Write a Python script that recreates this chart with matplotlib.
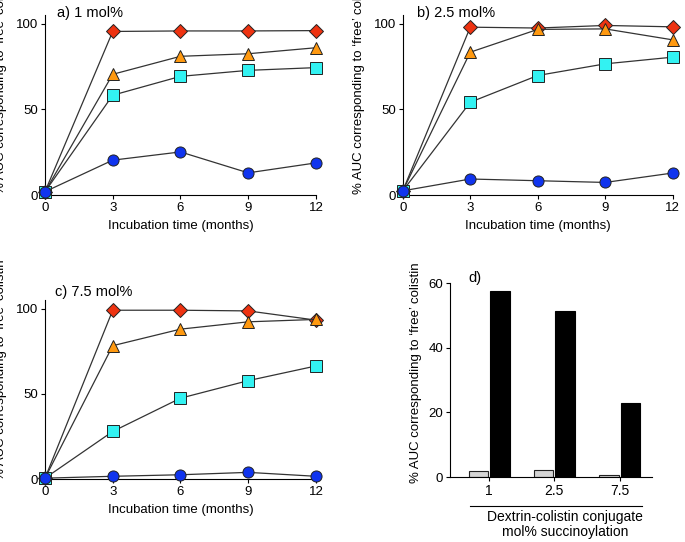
import matplotlib
matplotlib.use('Agg')
import matplotlib.pyplot as plt
import numpy as np

plt.rcParams['font.family'] = ['Liberation Sans', 'DejaVu Sans']
plt.rcParams['font.size'] = 9.5

months = [0, 3, 6, 9, 12]

# panel a) 1 mol%
a_red = [2, 95.5, 95.8, 95.8, 96]
a_orange = [2, 70.5, 81, 82.5, 86]
a_cyan = [2, 58.3, 69.3, 72.8, 74.4]
a_blue = [2, 20.4, 25.2, 13, 18.8]

# panel b) 2.5 mol%
b_red = [2.5, 98, 97.5, 99, 98.2]
b_orange = [2.5, 83.4, 96.7, 97, 90.6]
b_cyan = [2.5, 54.2, 69.8, 76.6, 80.5]
b_blue = [2.5, 9.4, 8.4, 7.4, 12.9]

# panel c) 7.5 mol%
c_red = [0.5, 99, 99, 98.6, 93.2]
c_orange = [0.5, 78.2, 87.9, 92.2, 93.6]
c_cyan = [0.5, 27.9, 47.4, 57.7, 66.3]
c_blue = [0.5, 1.6, 2.5, 3.9, 1.6]

# panel d)
d_labels = ['1', '2.5', '7.5']
d_gray = [2.0, 2.3, 0.5]
d_black = [57.5, 51.5, 23.0]

ylab = "% AUC corresponding to \u2018free\u2019 colistin"

fig = plt.figure(figsize=(6.85, 5.42), dpi=100)

def line_panel(rect, red, orange, cyan, blue, title, tx, ty, label_y):
    ax = fig.add_axes(rect)
    kw = dict(color='#333333', lw=0.9, markeredgecolor='#222222', markeredgewidth=0.7, clip_on=False)
    ax.plot(months, red, marker='D', markersize=7, markerfacecolor='#EE3311', zorder=3, **kw)
    ax.plot(months, orange, marker='^', markersize=8.5, markerfacecolor='#FF9910', zorder=4, **kw)
    ax.plot(months, cyan, marker='s', markersize=8, markerfacecolor='#33F2F2', zorder=5, **kw)
    ax.plot(months, blue, marker='o', markersize=8, markerfacecolor='#1034EE', zorder=6, **kw)
    ax.set_xlim(0, 12)
    ax.set_ylim(0, 105)
    ax.set_xticks(months)
    ax.set_yticks([0, 50, 100])
    ax.spines['top'].set_visible(False)
    ax.spines['right'].set_visible(False)
    ax.tick_params(direction='out', length=3, width=0.8, pad=2)
    ax.set_xlabel('Incubation time (months)', labelpad=4)
    ax.set_ylabel(ylab)
    ax.yaxis.set_label_coords(-0.14, label_y)
    ax.text(tx, ty, title, transform=ax.transAxes, fontsize=10.5, va='center', ha='left')
    return ax

line_panel([0.0657, 0.640, 0.3955, 0.332], a_red, a_orange, a_cyan, a_blue, 'a) 1 mol%', 0.044, 1.01, 0.617)
line_panel([0.588, 0.640, 0.394, 0.332], b_red, b_orange, b_cyan, b_blue, 'b) 2.5 mol%', 0.052, 1.01, 0.617)
line_panel([0.0657, 0.1162, 0.3955, 0.3303], c_red, c_orange, c_cyan, c_blue, 'c) 7.5 mol%', 0.037, 1.045, 0.61)

# bar panel
axd = fig.add_axes([0.657, 0.1199, 0.295, 0.3579])
x = np.arange(len(d_labels))
axd.bar(x - 0.165, d_gray, width=0.3, color='#D4D4D4', edgecolor='#222222', linewidth=0.8)
axd.bar(x + 0.165, d_black, width=0.3, color='black', edgecolor='black', linewidth=0.8)
axd.set_xlim(-0.6, 2.5)
axd.set_ylim(0, 60)
axd.set_yticks([0, 20, 40, 60])
axd.set_xticks(x)
axd.set_xticklabels(d_labels, fontsize=10)
axd.spines['top'].set_visible(False)
axd.spines['right'].set_visible(False)
axd.tick_params(direction='out', length=3, width=0.8, pad=2)
axd.set_ylabel(ylab)
axd.yaxis.set_label_coords(-0.139, 0.54)
axd.plot([0.099, 0.95], [-0.149, -0.149], transform=axd.transAxes, color='black', lw=0.8, clip_on=False)
axd.text(0.57, -0.245, 'Dextrin-colistin conjugate\nmol% succinoylation', transform=axd.transAxes,
         ha='center', va='center', fontsize=10, linespacing=1.15)
axd.text(0.089, 1.026, 'd)', transform=axd.transAxes, fontsize=10.5, va='center', ha='left')

plt.savefig('out.png', dpi=100)
